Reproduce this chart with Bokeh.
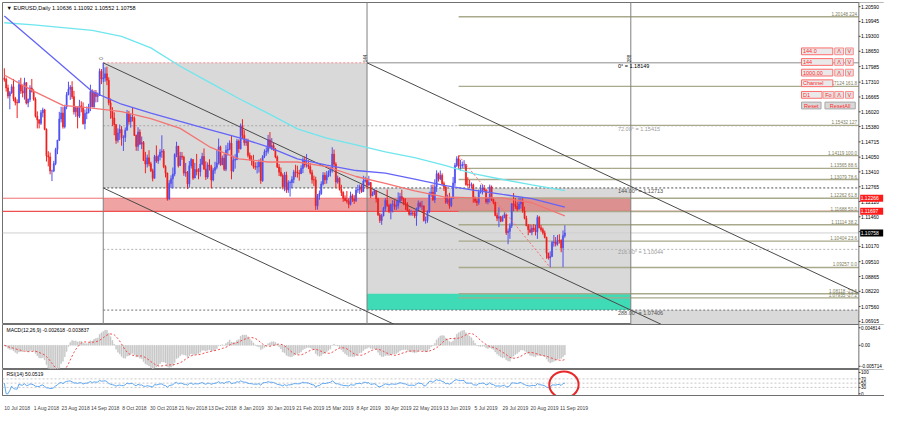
import numpy as np
from bokeh.plotting import figure
from bokeh.layouts import column
from bokeh.models import Range1d, FixedTicker, Label, ColumnDataSource
from bokeh.core.properties import value
from bokeh.embed import file_html
from bokeh.resources import INLINE

# ------------------------------------------------------------------ data
chart_title = "\u25BC EURUSD,Daily  1.10636 1.11092 1.10552 1.10758"
macd_title = "MACD(12,26,9) -0.002618 -0.003837"
rsi_title = "RSI(14) 50.0519"

date_idx = [0, 16, 32, 48, 64, 80, 96, 112, 128, 144, 160, 176, 192, 208, 224, 240, 256, 272, 288, 304]
date_labels = ["10 Jul 2018", "1 Aug 2018", "23 Aug 2018", "14 Sep 2018", "8 Oct 2018", "30 Oct 2018",
               "21 Nov 2018", "13 Dec 2018", "8 Jan 2019", "30 Jan 2019", "21 Feb 2019", "15 Mar 2019",
               "8 Apr 2019", "30 Apr 2019", "22 May 2019", "13 Jun 2019", "5 Jul 2019", "29 Jul 2019",
               "20 Aug 2019", "11 Sep 2019"]

first_open = 1.1748
closes = [
    1.1743, 1.1706, 1.1671, 1.1685, 1.1711, 1.1660, 1.1643, 1.1641, 1.1721, 1.1693,
    1.1684, 1.1729, 1.1640, 1.1656, 1.1706, 1.1691, 1.1657, 1.1583, 1.1567, 1.1552,
    1.1598, 1.1610, 1.1526, 1.1411, 1.1406, 1.1345, 1.1345, 1.1377, 1.1438, 1.1479,
    1.1571, 1.1597, 1.1537, 1.1623, 1.1676, 1.1700, 1.1709, 1.1668, 1.1602, 1.1620,
    1.1583, 1.1628, 1.1621, 1.1551, 1.1595, 1.1599, 1.1623, 1.1690, 1.1624, 1.1685,
    1.1669, 1.1673, 1.1778, 1.1745, 1.1749, 1.1767, 1.1739, 1.1641, 1.1604, 1.1575,
    1.1547, 1.1478, 1.1510, 1.1525, 1.1490, 1.1491, 1.1522, 1.1596, 1.1559, 1.1579,
    1.1575, 1.1500, 1.1452, 1.1514, 1.1462, 1.1469, 1.1390, 1.1375, 1.1402, 1.1376,
    1.1346, 1.1313, 1.1408, 1.1388, 1.1408, 1.1427, 1.1431, 1.1364, 1.1336, 1.1225,
    1.1291, 1.1311, 1.1332, 1.1416, 1.1453, 1.1368, 1.1409, 1.1405, 1.1336, 1.1339,
    1.1289, 1.1368, 1.1395, 1.1314, 1.1351, 1.1343, 1.1342, 1.1375, 1.1408, 1.1353,
    1.1319, 1.1371, 1.1365, 1.1306, 1.1348, 1.1361, 1.1380, 1.1450, 1.1372, 1.1401,
    1.1353, 1.1435, 1.1439, 1.1466, 1.1345, 1.1392, 1.1395, 1.1475, 1.1442, 1.1541,
    1.1500, 1.1468, 1.1473, 1.1413, 1.1393, 1.1389, 1.1364, 1.1362, 1.1363, 1.1383,
    1.1303, 1.1407, 1.1428, 1.1431, 1.1480, 1.1448, 1.1455, 1.1438, 1.1406, 1.1362,
    1.1340, 1.1325, 1.1277, 1.1327, 1.1262, 1.1294, 1.1295, 1.1308, 1.1341, 1.1340,
    1.1336, 1.1333, 1.1356, 1.1393, 1.1371, 1.1371, 1.1364, 1.1338, 1.1307, 1.1306,
    1.1194, 1.1236, 1.1247, 1.1288, 1.1326, 1.1306, 1.1325, 1.1339, 1.1351, 1.1418,
    1.1374, 1.1297, 1.1313, 1.1265, 1.1251, 1.1226, 1.1217, 1.1214, 1.1200, 1.1237,
    1.1223, 1.1216, 1.1262, 1.1264, 1.1276, 1.1255, 1.1301, 1.1305, 1.1284, 1.1295,
    1.1237, 1.1246, 1.1259, 1.1224, 1.1154, 1.1130, 1.1150, 1.1183, 1.1217, 1.1195,
    1.1171, 1.1199, 1.1200, 1.1191, 1.1194, 1.1215, 1.1234, 1.1224, 1.1205, 1.1202,
    1.1173, 1.1157, 1.1162, 1.1161, 1.1150, 1.1180, 1.1205, 1.1192, 1.1193, 1.1130,
    1.1130, 1.1167, 1.1242, 1.1253, 1.1220, 1.1276, 1.1333, 1.1310, 1.1326, 1.1290,
    1.1275, 1.1209, 1.1221, 1.1194, 1.1227, 1.1293, 1.1369, 1.1398, 1.1366, 1.1368,
    1.1373, 1.1373, 1.1286, 1.1285, 1.1283, 1.1285, 1.1226, 1.1214, 1.1208, 1.1253,
    1.1257, 1.1271, 1.1262, 1.1211, 1.1225, 1.1276, 1.1219, 1.1208, 1.1152, 1.1140,
    1.1146, 1.1127, 1.1142, 1.1155, 1.1077, 1.1083, 1.1107, 1.1203, 1.1199, 1.1191,
    1.1179, 1.1202, 1.1214, 1.1171, 1.1139, 1.1107, 1.1090, 1.1079, 1.1097, 1.1089,
    1.1081, 1.1143, 1.1098, 1.1090, 1.1076, 1.1057, 1.0988, 1.0967, 1.0973, 1.1034,
    1.1036, 1.1027, 1.1044, 1.1043, 1.1011, 1.1064, 1.10758]
highs = [
    1.1791, 1.1751, 1.1720, 1.1692, 1.1722, 1.1745, 1.1667, 1.1656, 1.1740, 1.1750,
    1.1717, 1.1750, 1.1730, 1.1660, 1.1718, 1.1745, 1.1700, 1.1665, 1.1604, 1.1570,
    1.1610, 1.1620, 1.1615, 1.1530, 1.1431, 1.1425, 1.1350, 1.1389, 1.1446, 1.1480,
    1.1602, 1.1624, 1.1624, 1.1633, 1.1688, 1.1733, 1.1718, 1.1735, 1.1693, 1.1625,
    1.1622, 1.1654, 1.1648, 1.1643, 1.1612, 1.1625, 1.1637, 1.1720, 1.1700, 1.1696,
    1.1697, 1.1686, 1.1790, 1.1788, 1.1815, 1.1795, 1.1798, 1.1752, 1.1660, 1.1622,
    1.1600, 1.1548, 1.1530, 1.1547, 1.1540, 1.1500, 1.1534, 1.1610, 1.1606, 1.1593,
    1.1621, 1.1582, 1.1503, 1.1535, 1.1526, 1.1495, 1.1475, 1.1428, 1.1416, 1.1435,
    1.1385, 1.1355, 1.1415, 1.1456, 1.1416, 1.1440, 1.1500, 1.1440, 1.1370, 1.1338,
    1.1305, 1.1326, 1.1360, 1.1422, 1.1472, 1.1454, 1.1428, 1.1427, 1.1411, 1.1380,
    1.1345, 1.1388, 1.1401, 1.1395, 1.1380, 1.1419, 1.1357, 1.1398, 1.1424, 1.1443,
    1.1387, 1.1382, 1.1396, 1.1372, 1.1358, 1.1385, 1.1438, 1.1486, 1.1455, 1.1412,
    1.1420, 1.1457, 1.1468, 1.1478, 1.1497, 1.1411, 1.1418, 1.1485, 1.1482, 1.1551,
    1.1570, 1.1522, 1.1486, 1.1485, 1.1425, 1.1412, 1.1415, 1.1383, 1.1384, 1.1395,
    1.1400, 1.1414, 1.1439, 1.1448, 1.1502, 1.1514, 1.1488, 1.1468, 1.1445, 1.1412,
    1.1375, 1.1360, 1.1334, 1.1340, 1.1342, 1.1305, 1.1303, 1.1322, 1.1350, 1.1372,
    1.1368, 1.1350, 1.1370, 1.1404, 1.1408, 1.1419, 1.1392, 1.1380, 1.1350, 1.1325,
    1.1320, 1.1245, 1.1260, 1.1300, 1.1340, 1.1339, 1.1345, 1.1348, 1.1362, 1.1448,
    1.1438, 1.1383, 1.1325, 1.1318, 1.1285, 1.1257, 1.1239, 1.1258, 1.1226, 1.1255,
    1.1246, 1.1240, 1.1270, 1.1285, 1.1286, 1.1287, 1.1324, 1.1320, 1.1314, 1.1324,
    1.1297, 1.1256, 1.1268, 1.1262, 1.1229, 1.1163, 1.1159, 1.1189, 1.1228, 1.1265,
    1.1202, 1.1204, 1.1218, 1.1218, 1.1214, 1.1252, 1.1250, 1.1264, 1.1230, 1.1226,
    1.1210, 1.1180, 1.1176, 1.1171, 1.1172, 1.1186, 1.1217, 1.1212, 1.1215, 1.1195,
    1.1147, 1.1174, 1.1255, 1.1285, 1.1286, 1.1309, 1.1348, 1.1338, 1.1347, 1.1335,
    1.1299, 1.1282, 1.1242, 1.1250, 1.1230, 1.1319, 1.1380, 1.1409, 1.1412, 1.1393,
    1.1386, 1.1392, 1.1375, 1.1318, 1.1306, 1.1295, 1.1290, 1.1234, 1.1225, 1.1264,
    1.1285, 1.1286, 1.1284, 1.1266, 1.1230, 1.1286, 1.1282, 1.1225, 1.1212, 1.1165,
    1.1187, 1.1150, 1.1152, 1.1165, 1.1160, 1.1095, 1.1118, 1.1205, 1.1249, 1.1228,
    1.1211, 1.1230, 1.1230, 1.1228, 1.1190, 1.1150, 1.1115, 1.1113, 1.1110, 1.1114,
    1.1111, 1.1153, 1.1150, 1.1110, 1.1099, 1.1086, 1.1059, 1.0990, 1.0996, 1.1041,
    1.1067, 1.1058, 1.1067, 1.1070, 1.1048, 1.1087, 1.11092]
lows = [
    1.1733, 1.1690, 1.1660, 1.1613, 1.1680, 1.1648, 1.1630, 1.1575, 1.1640, 1.1680,
    1.1665, 1.1655, 1.1634, 1.1622, 1.1645, 1.1686, 1.1650, 1.1577, 1.1530, 1.1530,
    1.1545, 1.1578, 1.1522, 1.1386, 1.1365, 1.1330, 1.1301, 1.1340, 1.1370, 1.1418,
    1.1475, 1.1556, 1.1529, 1.1530, 1.1613, 1.1674, 1.1654, 1.1658, 1.1590, 1.1580,
    1.1530, 1.1575, 1.1600, 1.1546, 1.1526, 1.1570, 1.1595, 1.1605, 1.1622, 1.1620,
    1.1643, 1.1644, 1.1671, 1.1722, 1.1730, 1.1733, 1.1718, 1.1630, 1.1572, 1.1540,
    1.1500, 1.1463, 1.1468, 1.1480, 1.1455, 1.1432, 1.1471, 1.1521, 1.1546, 1.1533,
    1.1560, 1.1497, 1.1433, 1.1432, 1.1458, 1.1440, 1.1390, 1.1335, 1.1360, 1.1365,
    1.1340, 1.1300, 1.1313, 1.1380, 1.1376, 1.1391, 1.1402, 1.1357, 1.1317, 1.1216,
    1.1218, 1.1272, 1.1269, 1.1322, 1.1405, 1.1360, 1.1372, 1.1393, 1.1324, 1.1320,
    1.1267, 1.1273, 1.1356, 1.1306, 1.1320, 1.1326, 1.1309, 1.1321, 1.1370, 1.1351,
    1.1306, 1.1311, 1.1347, 1.1269, 1.1300, 1.1333, 1.1352, 1.1373, 1.1368, 1.1370,
    1.1345, 1.1344, 1.1412, 1.1435, 1.1309, 1.1340, 1.1355, 1.1392, 1.1424, 1.1438,
    1.1484, 1.1455, 1.1454, 1.1404, 1.1390, 1.1369, 1.1355, 1.1350, 1.1334, 1.1338,
    1.1289, 1.1298, 1.1401, 1.1411, 1.1420, 1.1442, 1.1436, 1.1432, 1.1400, 1.1358,
    1.1323, 1.1320, 1.1265, 1.1257, 1.1250, 1.1250, 1.1234, 1.1270, 1.1292, 1.1318,
    1.1316, 1.1303, 1.1332, 1.1336, 1.1360, 1.1360, 1.1353, 1.1330, 1.1290, 1.1280,
    1.1176, 1.1177, 1.1220, 1.1241, 1.1282, 1.1288, 1.1290, 1.1318, 1.1321, 1.1338,
    1.1360, 1.1270, 1.1290, 1.1260, 1.1236, 1.1211, 1.1213, 1.1204, 1.1183, 1.1195,
    1.1210, 1.1202, 1.1210, 1.1250, 1.1245, 1.1250, 1.1260, 1.1295, 1.1266, 1.1280,
    1.1227, 1.1236, 1.1240, 1.1208, 1.1150, 1.1119, 1.1111, 1.1148, 1.1169, 1.1189,
    1.1162, 1.1135, 1.1165, 1.1177, 1.1175, 1.1181, 1.1205, 1.1215, 1.1196, 1.1175,
    1.1169, 1.1151, 1.1150, 1.1150, 1.1140, 1.1107, 1.1176, 1.1186, 1.1175, 1.1125,
    1.1116, 1.1120, 1.1162, 1.1232, 1.1215, 1.1206, 1.1254, 1.1299, 1.1305, 1.1283,
    1.1258, 1.1202, 1.1201, 1.1181, 1.1188, 1.1225, 1.1279, 1.1362, 1.1355, 1.1346,
    1.1358, 1.1359, 1.1281, 1.1277, 1.1270, 1.1270, 1.1207, 1.1206, 1.1193, 1.1198,
    1.1247, 1.1243, 1.1256, 1.1203, 1.1200, 1.1208, 1.1214, 1.1200, 1.1148, 1.1127,
    1.1101, 1.1122, 1.1126, 1.1140, 1.1067, 1.1027, 1.1050, 1.1097, 1.1170, 1.1180,
    1.1170, 1.1180, 1.1182, 1.1163, 1.1135, 1.1105, 1.1066, 1.1076, 1.1066, 1.1080,
    1.1065, 1.1050, 1.1096, 1.1081, 1.1068, 1.1052, 1.0964, 1.0960, 1.0926, 1.0974,
    1.1016, 1.1017, 1.1021, 1.1030, 1.0992, 1.0927, 1.10552]

ma_idx = [0, 16, 32, 48, 64, 80, 96, 112, 128, 144, 160, 176, 192, 208, 224, 240, 256, 272, 288, 306]
ma_cyan = [1.1989, 1.1980, 1.1968, 1.1956, 1.1930, 1.1880, 1.1800, 1.1730, 1.1660, 1.1595,
           1.1528, 1.1488, 1.1458, 1.1428, 1.1403, 1.1370, 1.1334, 1.1308, 1.1285, 1.1260]
ma_blue = [1.2018, 1.1910, 1.1800, 1.1690, 1.1635, 1.1596, 1.1560, 1.1525, 1.1490, 1.1450,
           1.1398, 1.1370, 1.1347, 1.1336, 1.1310, 1.1282, 1.1262, 1.1243, 1.1225, 1.1188]
ma_red = [1.1762, 1.1692, 1.1630, 1.1618, 1.1603, 1.1572, 1.1530, 1.1450, 1.1398, 1.1384,
          1.1384, 1.1364, 1.1321, 1.1291, 1.1259, 1.1232, 1.1228, 1.1228, 1.1207, 1.1150]

price_ticks = [1.20590, 1.19945, 1.19300, 1.18650, 1.17985, 1.17310, 1.16665, 1.16020, 1.15380,
               1.14715, 1.14050, 1.13410, 1.12765, 1.12120, 1.11460, 1.10815, 1.10170, 1.09510,
               1.08865, 1.08220, 1.07560, 1.06915]

# Gann square objects
gann_bars = [54, 198, 342]
gann_names = ["0\u00B0", "72.00\u00B0", "144.00\u00B0", "216.00\u00B0", "288.00\u00B0"]
gann_prices = [1.18149, 1.15415, 1.12713, 1.10044, 1.07406]
gann_bar_labels = ["0", "144", "288"]

# Fibonacci expansion
fib_anchor_bars = [248, 298]
fib_anchor_prices = [1.14119, 1.09257]
fib_names = ["224", "161.8", "127", "100.0", "88.6", "78.6", "61.8", "50.0", "38.2", "23.6", "0.0", "-23.6", "-27.2"]
fib_prices = [1.20148, 1.17124, 1.15432, 1.14119, 1.13565, 1.13079, 1.12262, 1.11688, 1.11114,
              1.10404, 1.09257, 1.08118, 1.07935]

zone_prices = [1.11697, 1.12266]
teal_prices = [1.07406, 1.08118]
bid_price = 1.10758

macd_ticks = [-0.005714, 0.0, 0.004814]
macd_tick_labels = ["-0.005714", "0.00", "0.004814"]
rsi_ticks = [0, 30, 50, 70, 100]
rsi_levels = [30, 50, 70]

ui_boxes = [
    ("144.0", 818, 50, 850, 57, "field"), ("\u039B", 852, 50, 861, 57, "btn"), ("V", 863, 50, 871, 57, "btn"),
    ("144", 818, 61, 850, 68, "field"), ("\u039B", 852, 61, 861, 68, "btn"), ("V", 863, 61, 871, 68, "btn"),
    ("1000.00", 818, 72, 850, 79, "field"), ("\u039B", 852, 72, 861, 79, "btn"), ("V", 863, 72, 871, 79, "btn"),
    ("Channel", 818, 83, 850, 90, "field"),
    ("D1", 818, 95, 839, 102, "field"), ("Fo", 840, 95, 851, 102, "btn"), ("\u039B", 852, 95, 861, 102, "btn"),
    ("V", 863, 95, 871, 102, "btn"),
    ("Reset", 818, 106, 838, 113, "btn2"), ("ResetAll", 842, 106, 873, 113, "btn2"),
]

# ------------------------------------------------------------------ layout / style
FONT = "Liberation Sans"
FS = "5px"
X_START, X_END = -1.0, 466.5          # chart area (bars)
X_AXIS_END = 480.5                   # the price-scale strip on the right
MAIN_Y = (1.0678, 1.2077)
FRAME_W = 882
BULL, BEAR = "#5050f0", "#f02020"
DATE_SHIFT = 7
GANN_TEXT_BAR = 335
AXIS_COLOR = "#707070"


def ox(xpx):  # original screenshot pixel -> bar index (layout helper for decorations)
    return (xpx - 2) / 1.875


def oy(ypx):  # original screenshot pixel -> price
    return 1.2059 - (ypx - 7.3) * 0.0004203


xr = Range1d(X_START, X_AXIS_END)


def base_fig(frame_h, yr, top=0):
    f = figure(frame_width=FRAME_W, frame_height=frame_h, x_range=xr, y_range=yr,
               y_axis_location=None, output_backend="svg", toolbar_location=None,
               min_border_left=2, min_border_right=0, min_border_top=top, min_border_bottom=0)
    f.xgrid.visible = False
    f.ygrid.visible = False
    f.outline_line_color = AXIS_COLOR
    f.outline_line_width = 1
    f.background_fill_color = "white"
    f.border_fill_color = "white"
    return f


def price_scale(f, ticks, labels, lo, hi, fs=FS):
    # right-hand price scale drawn in the strip right of the chart area
    f.quad(left=[X_END], right=[X_AXIS_END + 1], bottom=[lo], top=[hi], fill_color="white", line_color=None)
    f.line([X_END, X_END], [lo, hi], line_color=AXIS_COLOR, line_width=1)
    f.segment(x0=[X_END] * len(ticks), x1=[X_END + 0.9] * len(ticks), y0=ticks, y1=ticks,
              line_color="#404040", line_width=1)
    f.text(x=[X_END + 1.2] * len(ticks), y=ticks, text=labels, text_font=value(FONT), text_font_size=fs,
           text_color="#000000", text_align="left", text_baseline="middle")


# ------------------------------------------------------------------ main price panel
p = base_fig(322, Range1d(*MAIN_Y), top=2)
p.xaxis.visible = False

below = MAIN_Y[0] - 0.01
above = MAIN_Y[1] + 0.01
right = X_END

# Gann boxes (grey staircase)
p.quad(left=[gann_bars[0], gann_bars[1], gann_bars[2]],
       right=[gann_bars[1], gann_bars[2], right],
       top=[gann_prices[0], gann_prices[2], gann_prices[4]],
       bottom=[gann_prices[2], gann_prices[4], below],
       fill_color="#d9d9d9", line_color=None)

# red zone
p.quad(left=[gann_bars[0]], right=[gann_bars[2]], bottom=[zone_prices[0]], top=[zone_prices[1]],
       fill_color="#e04848", fill_alpha=0.5, line_color=None)
p.line([X_START, gann_bars[2]], [zone_prices[1]] * 2, line_color="#f07070", line_width=1)
p.line([X_START, right], [zone_prices[0]] * 2, line_color="#f05050", line_width=1.2)

# teal zone
p.quad(left=[gann_bars[1]], right=[gann_bars[2]], bottom=[teal_prices[0]], top=[teal_prices[1]],
       fill_color="#3fdab6", line_color=None)

# bid line
p.line([X_START, right], [bid_price] * 2, line_color="#cfcfcf", line_width=1)

# Gann level lines
gann_colors = ["#8c8c8c", "#a8a8a8", "#505050", "#b4b4b4", "#707070"]
p.line([gann_bars[0], gann_bars[1]], [gann_prices[0]] * 2, line_color="#ff8c8c", line_dash="2 2", line_width=1)
p.line([gann_bars[1], right], [gann_prices[0]] * 2, line_color=gann_colors[0], line_width=1)
for gp, gc in zip(gann_prices[1:], gann_colors[1:]):
    p.line([gann_bars[0], right], [gp, gp], line_color=gc, line_dash="2 2", line_width=1)

# Fibonacci lines
for fp in fib_prices:
    p.line([fib_anchor_bars[0], right], [fp, fp], line_color="#a9a98b", line_width=1.4)

# vertical Gann lines
p.line([gann_bars[0]] * 2, [below, gann_prices[0]], line_color="#808080", line_width=1)
for gb in gann_bars[1:]:
    p.line([gb, gb], [below, above], line_color="#808080", line_width=1)

# channel lines (parallel, 1x1 Gann angle), stopped at the chart edge
slope = (gann_prices[4] - gann_prices[0]) / (gann_bars[2] - gann_bars[0])
for (bx, by) in [(gann_bars[0], gann_prices[0]), (gann_bars[1], gann_prices[0]), (gann_bars[0], gann_prices[2])]:
    p.line([bx, right], [by, by + slope * (right - bx)], line_color="#4a4a4a", line_width=1)

# candles
c = np.array(closes)
o = np.array([first_open] + closes[:-1])
h = np.maximum(np.array(highs), np.maximum(o, c))
l = np.minimum(np.array(lows), np.minimum(o, c))
idx = np.arange(len(c))
col = np.where(c >= o, BULL, BEAR)
src = ColumnDataSource(dict(x=idx, top=np.maximum(o, c), bottom=np.minimum(o, c), h=h, l=l, color=col))
p.segment(x0="x", y0="l", x1="x", y1="h", line_color="color", line_width=1, source=src)
p.vbar(x="x", width=0.6, top="top", bottom="bottom", fill_color="color", line_color="color",
       line_width=0.6, source=src)

# moving averages
p.line(ma_idx, ma_cyan, line_color="#6fe6ee", line_width=1.3)
p.line(ma_idx, ma_blue, line_color="#6464f8", line_width=1.3)
p.line(ma_idx, ma_red, line_color="#f47474", line_width=1.3)

# fib trend line
p.line(fib_anchor_bars, fib_anchor_prices, line_color="#ff6a6a", line_dash="2 2", line_width=1)

# texts
p.text(x=[GANN_TEXT_BAR] * len(gann_prices), y=gann_prices,
       text=[f"{nm} = {v:.5f}" for nm, v in zip(gann_names, gann_prices)],
       text_color=["#000000", "#9a9a9a", "#505050", "#9a9a9a", "#505050"],
       text_font=value(FONT), text_font_size="5.5px", text_align="left", text_baseline="top")
p.text(x=[X_END - 0.3] * len(fib_prices), y=fib_prices,
       text=[f"{v:.5f}  {nm}" for nm, v in zip(fib_names, fib_prices)],
       text_color="#7d7d5c", text_font=value(FONT), text_font_size="4.6px",
       text_align="right", text_baseline="bottom")
p.text(x=gann_bars, y=[oy(61)] * 3, text=gann_bar_labels, angle=np.pi / 2,
       text_color="#303030", text_font=value(FONT), text_font_size="4.5px",
       text_align="center", text_baseline="bottom")

# control panel (MT4 buttons)
styles = {"field": ("#e9e9e9", "#ff6c6c"), "btn": ("#e2e2e2", "#ff8c8c"), "btn2": ("#d8d8d8", "#a8a8a8")}
p.quad(left=[ox(b[1]) for b in ui_boxes], right=[ox(b[3]) for b in ui_boxes],
       top=[oy(b[2]) for b in ui_boxes], bottom=[oy(b[4]) for b in ui_boxes],
       fill_color=[styles[b[5]][0] for b in ui_boxes], line_color=[styles[b[5]][1] for b in ui_boxes],
       line_width=1)
p.text(x=[ox((b[1] + b[3]) / 2) if b[5] != "field" else ox(b[1] + 1.5) for b in ui_boxes],
       y=[oy((b[2] + b[4]) / 2) for b in ui_boxes], text=[b[0] for b in ui_boxes],
       text_align=["center" if b[5] != "field" else "left" for b in ui_boxes],
       text_baseline="middle", text_color="#ff2a2a", text_font=value(FONT), text_font_size="5.5px")

p.add_layout(Label(x=X_START, y=MAIN_Y[1], x_offset=4, y_offset=-2, text=chart_title,
                   text_font=FONT, text_font_size="5.5px", text_color="#000000", text_baseline="top"))

# price scale + coloured price tags
price_scale(p, price_ticks, [f"{v:.5f}" for v in price_ticks], below, above)
tag_vals = [zone_prices[1], zone_prices[0], bid_price]
tag_cols = ["#ff1a1a", "#ff1a1a", "#000000"]
p.rect(x=[X_END + 7.0] * 3, y=tag_vals, width=23, height=7, width_units="screen", height_units="screen",
       fill_color=tag_cols, line_color=None)
p.text(x=[X_END + 1.0] * 3, y=tag_vals, text=[f"{v:.5f}" for v in tag_vals], text_font=value(FONT),
       text_font_size=FS, text_color="#ffffff", text_align="left", text_baseline="middle")

# ------------------------------------------------------------------ MACD panel
n = len(c)


def ema(x, per):
    a = 2.0 / (per + 1)
    out = np.empty_like(x)
    out[0] = x[0]
    for k in range(1, len(x)):
        out[k] = a * x[k] + (1 - a) * out[k - 1]
    return out


macd = ema(c, 12) - ema(c, 26)
signal = np.array([macd[max(0, k - 8):k + 1].mean() for k in range(n)])

MACD_Y = (-0.0066, 0.0057)
pm = base_fig(45, Range1d(*MACD_Y))
pm.xaxis.visible = False
pm.vbar(x=idx, width=0.5, top=macd, bottom=0, fill_color="#c4c4c4", line_color="#c4c4c4", line_width=0.5)
pm.line(idx, signal, line_color="#f04848", line_dash="2 2", line_width=1)
price_scale(pm, macd_ticks, macd_tick_labels, MACD_Y[0] - 1, MACD_Y[1] + 1, fs="4.6px")
pm.add_layout(Label(x=X_START, y=MACD_Y[1], x_offset=4, y_offset=-2, text=macd_title, text_font=FONT,
                    text_font_size="5px", text_color="#000000", text_baseline="top"))

# ------------------------------------------------------------------ RSI panel
diff = np.diff(c, prepend=c[0])
gain = np.clip(diff, 0, None)
loss = np.clip(-diff, 0, None)
ag = np.zeros(n)
al = np.zeros(n)
for k in range(1, n):
    if k <= 14:
        ag[k] = gain[1:k + 1].mean()
        al[k] = loss[1:k + 1].mean()
    else:
        ag[k] = (ag[k - 1] * 13 + gain[k]) / 14
        al[k] = (al[k - 1] * 13 + loss[k]) / 14
rsi = np.where(ag + al > 0, 100 * ag / np.where(ag + al > 0, ag + al, 1), 50)

RSI_Y = (-8, 114)
pr = base_fig(26, Range1d(*RSI_Y))
pr.xaxis.ticker = FixedTicker(ticks=[d + DATE_SHIFT for d in date_idx])
pr.xaxis.major_label_overrides = {d + DATE_SHIFT: s for d, s in zip(date_idx, date_labels)}
pr.xaxis.major_label_text_font_size = FS
pr.xaxis.major_label_text_font = FONT
pr.xaxis.major_tick_line_color = None
pr.xaxis.minor_tick_line_color = None
pr.xaxis.axis_line_color = AXIS_COLOR
pr.xaxis.major_label_standoff = 3
for lv in rsi_levels:
    pr.line([X_START, X_END], [lv, lv], line_color="#c8c8c8", line_dash="2 2", line_width=1)
pr.line(idx, rsi, line_color="#5ea6f2", line_width=1)
pr.ellipse(x=[n - 1.5], y=[43], width=16, height=124, fill_color=None, line_color="#e82828", line_width=2)
price_scale(pr, rsi_ticks, [str(t) for t in rsi_ticks], RSI_Y[0] - 10, RSI_Y[1] + 10, fs="4.6px")
pr.add_layout(Label(x=X_START, y=RSI_Y[1], x_offset=4, y_offset=-1, text=rsi_title, text_font=FONT,
                    text_font_size="5px", text_color="#000000", text_baseline="top"))

layout = column(p, pm, pr, spacing=0)
open("out.html", "w").write(file_html(layout, INLINE))
